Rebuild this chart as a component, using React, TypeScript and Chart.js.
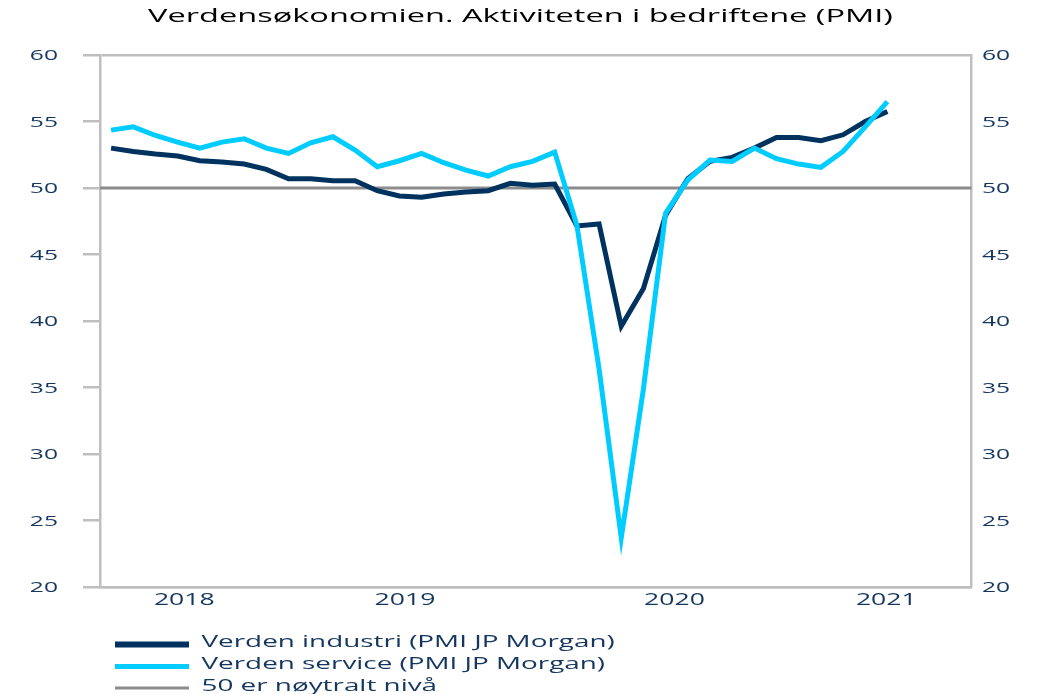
import React, { useEffect, useRef } from 'react';
import { Chart, registerables } from 'chart.js';

Chart.register(...registerables);

const TITLE = 'Verdensøkonomien. Aktiviteten i bedriftene (PMI)';
const SERIES_NAMES = [
  'Verden industri (PMI JP Morgan)',
  'Verden service (PMI JP Morgan)',
  '50 er nøytralt nivå',
];
const industri = [
  53.0, 52.75, 52.55, 52.4, 52.05, 51.95, 51.8, 51.4, 50.7, 50.7, 50.55, 50.55,
  49.8, 49.4, 49.3, 49.55, 49.7, 49.8, 50.35, 50.2, 50.3, 47.15, 47.3, 39.6,
  42.45, 47.95, 50.7, 52.0, 52.3, 53.0, 53.8, 53.8, 53.55, 54.0, 55.0, 55.75,
];
const service = [
  54.35, 54.6, 53.95, 53.45, 53.0, 53.45, 53.7, 53.0, 52.6, 53.4, 53.85, 52.85,
  51.6, 52.05, 52.6, 51.9, 51.35, 50.9, 51.6, 52.0, 52.7, 47.2, 36.4, 23.7,
  34.9, 48.1, 50.6, 52.1, 52.0, 53.0, 52.2, 51.8, 51.55, 52.75, 54.6, 56.5,
];
const NEUTRAL = 50;
const YEAR_LABELS = ['2018', '2019', '2020', '2021'];
const YEAR_POS = [3.3, 13.25, 25.4, 34.95];
const Y_TICKS = [20, 25, 30, 35, 40, 45, 50, 55, 60];
const X_MIN = -0.5;
const X_MAX = 38.8;

const NAVY = '#00325f';
const CYAN = '#00ccff';
const GRAY50 = '#8c8c8c';
const AXIS = '#bfbfbf';
const TEXT = '#14365f';
const FONT = '"Open Sans", sans-serif';
const SX = 1.62;
const TITLE_SX = 1.75;

function stretchText(ctx: CanvasRenderingContext2D, text: string, x: number, y: number, size: number, color: string, align: 'left' | 'right' | 'center', sx = SX) {
  ctx.save();
  ctx.font = `${size}px ${FONT}`;
  ctx.fillStyle = color;
  ctx.textAlign = 'left';
  ctx.textBaseline = 'alphabetic';
  const w = ctx.measureText(text).width * sx;
  let left = x;
  if (align === 'right') left = x - w;
  if (align === 'center') left = x - w / 2;
  ctx.translate(left, y);
  ctx.scale(sx, 1);
  ctx.fillText(text, 0, 0);
  ctx.restore();
}

const textPlugin = {
  id: 'stretchedText',
  afterDraw(chart: any) {
    const ctx = chart.ctx as CanvasRenderingContext2D;
    const xs = chart.scales.x;
    const ys = chart.scales.y;
    // title
    stretchText(ctx, TITLE, 520.5, 21.5, 18.6, '#000000', 'center', TITLE_SX);
    // y tick labels (left and right)
    Y_TICKS.forEach((v) => {
      const py = ys.getPixelForValue(v);
      stretchText(ctx, String(v), 58, py + 5.4, 15.2, TEXT, 'right');
      stretchText(ctx, String(v), 982, py + 5.4, 15.2, TEXT, 'left');
    });
    // x labels
    YEAR_LABELS.forEach((lab, i) => {
      const px = xs.getPixelForValue(YEAR_POS[i]);
      stretchText(ctx, lab, px, 605, 16.4, TEXT, 'center');
    });
    // legend
    const items = [
      { name: SERIES_NAMES[0], color: NAVY, w: 6, y: 644.5 },
      { name: SERIES_NAMES[1], color: CYAN, w: 5, y: 666.5 },
      { name: SERIES_NAMES[2], color: GRAY50, w: 3, y: 688 },
    ];
    items.forEach((it) => {
      ctx.save();
      ctx.strokeStyle = it.color;
      ctx.lineWidth = it.w;
      ctx.beginPath();
      ctx.moveTo(115, it.y);
      ctx.lineTo(189, it.y);
      ctx.stroke();
      ctx.restore();
      stretchText(ctx, it.name, 201.5, it.y + 2.5, 17.2, TEXT, 'left');
    });
  },
};

export default function App() {
  const ref = useRef<HTMLCanvasElement | null>(null);
  useEffect(() => {
    if (!ref.current) return;
    const toPts = (arr: number[]) => arr.map((v, i) => ({ x: i, y: v }));
    const chart = new Chart(ref.current, {
      type: 'line',
      data: {
        datasets: [
          {
            label: SERIES_NAMES[1],
            data: toPts(service),
            borderColor: CYAN,
            backgroundColor: CYAN,
            borderWidth: 5,
            pointRadius: 0,
            tension: 0,
            borderJoinStyle: 'miter',
            order: 0,
            yAxisID: 'y',
          },
          {
            label: SERIES_NAMES[0],
            data: toPts(industri),
            borderColor: NAVY,
            backgroundColor: NAVY,
            borderWidth: 5,
            pointRadius: 0,
            tension: 0,
            borderJoinStyle: 'miter',
            order: 1,
            yAxisID: 'y',
          },
          {
            label: SERIES_NAMES[2],
            data: [
              { x: X_MIN, y: NEUTRAL },
              { x: X_MAX, y: NEUTRAL },
            ],
            borderColor: GRAY50,
            backgroundColor: GRAY50,
            borderWidth: 3,
            pointRadius: 0,
            order: 2,
            yAxisID: 'y',
          },
        ],
      },
      options: {
        responsive: false,
        animation: false,
        devicePixelRatio: 1,
        layout: { padding: { left: 83, right: 66.3, top: 55, bottom: 107 } },
        plugins: {
          legend: { display: false },
          title: { display: false },
          tooltip: { enabled: false },
        },
        scales: {
          x: {
            type: 'linear',
            min: X_MIN,
            max: X_MAX,
            ticks: { display: false },
            grid: { display: false, drawTicks: false },
            border: { display: true, color: AXIS, width: 2.5 },
          },
          y: {
            type: 'linear',
            position: 'left',
            min: 20,
            max: 60,
            ticks: { display: false, stepSize: 5 },
            grid: {
              display: true,
              drawOnChartArea: true,
              drawTicks: true,
              tickLength: 17,
              lineWidth: 2.5,
              tickColor: AXIS,
              color: (c: any) => (c.tick && (c.tick.value === 60 || c.tick.value === 20) ? AXIS : 'rgba(0,0,0,0)'),
            },
            border: { display: true, color: AXIS, width: 2.5 },
          },
          y2: {
            type: 'linear',
            position: 'right',
            min: 20,
            max: 60,
            ticks: { display: false, stepSize: 5 },
            grid: { display: false, drawTicks: false },
            border: { display: true, color: AXIS, width: 2.5 },
          },
        },
      },
      plugins: [textPlugin],
    });
    return () => chart.destroy();
  }, []);
  return (
    <div style={{ position: 'absolute', left: 0, top: 0, width: 1038, height: 694, background: '#fff' }}>
      <canvas ref={ref} width={1038} height={694} />
    </div>
  );
}
